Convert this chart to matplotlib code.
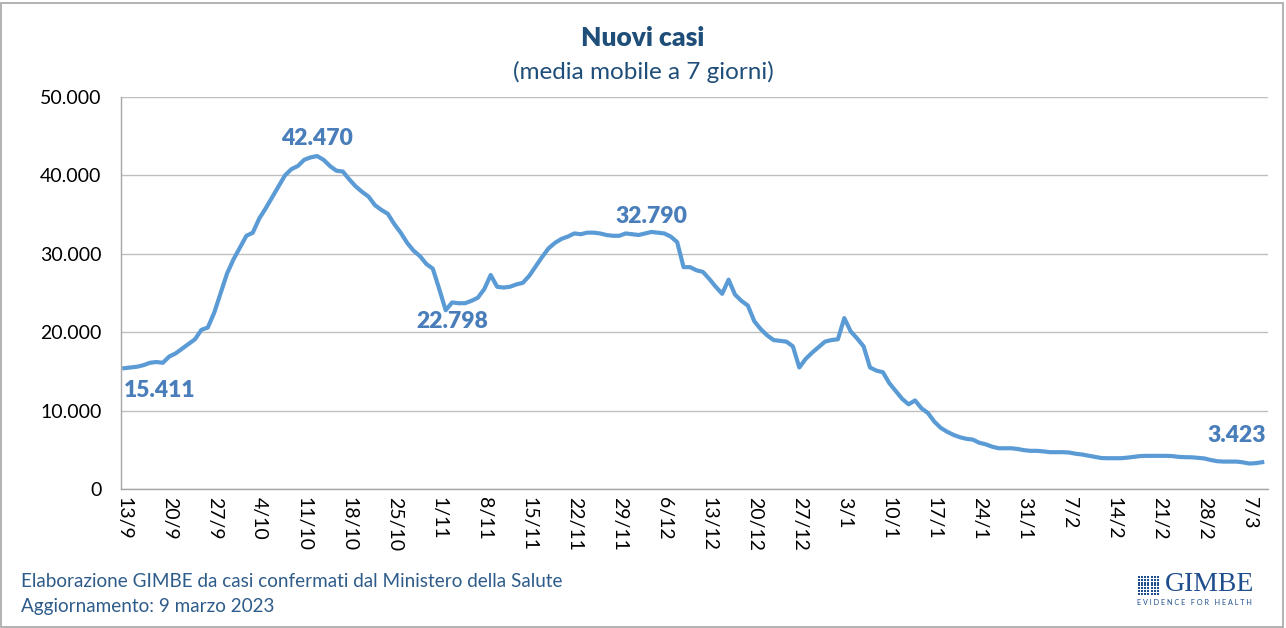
import numpy as np
import pandas as pd
import matplotlib
matplotlib.use("Agg")
import matplotlib.pyplot as plt
from matplotlib.ticker import FuncFormatter
from matplotlib.patches import Rectangle

plt.rcParams['font.family'] = ['Lato', 'DejaVu Sans']

# 7-day moving average of new cases, 13/9/2022 -> 9/3/2023 (thousands)
start_date = "2022-09-13"
casi_k = [
    15.411, 15.5, 15.6, 15.8, 16.1, 16.2, 16.1, 16.9, 17.3, 17.9,
    18.5, 19.1, 20.3, 20.6, 22.5, 25.0, 27.5, 29.3, 30.8, 32.3,
    32.7, 34.5, 35.8, 37.2, 38.6, 40.0, 40.8, 41.2, 42.0, 42.3,
    42.47, 42.0, 41.2, 40.6, 40.5, 39.5, 38.6, 37.9, 37.3, 36.2,
    35.6, 35.1, 33.8, 32.7, 31.4, 30.4, 29.7, 28.7, 28.1, 25.5,
    22.798, 23.8, 23.7, 23.7, 24.0, 24.4, 25.5, 27.3, 25.8, 25.7,
    25.8, 26.1, 26.3, 27.2, 28.4, 29.6, 30.7, 31.4, 31.9, 32.2,
    32.6, 32.5, 32.7, 32.7, 32.6, 32.4, 32.3, 32.3, 32.6, 32.5,
    32.4, 32.6, 32.79, 32.7, 32.6, 32.2, 31.5, 28.3, 28.3, 27.9,
    27.7, 26.8, 25.8, 24.9, 26.7, 24.8, 24.0, 23.4, 21.4, 20.4,
    19.6, 19.0, 18.9, 18.8, 18.2, 15.5, 16.6, 17.4, 18.1, 18.8,
    19.0, 19.1, 21.8, 20.1, 19.2, 18.2, 15.5, 15.1, 14.9, 13.5,
    12.5, 11.5, 10.8, 11.3, 10.3, 9.7, 8.6, 7.8, 7.3, 6.9,
    6.6, 6.4, 6.3, 5.9, 5.7, 5.4, 5.2, 5.2, 5.2, 5.1,
    4.95, 4.87, 4.87, 4.8, 4.7, 4.7, 4.7, 4.65, 4.5, 4.4,
    4.25, 4.1, 3.95, 3.93, 3.93, 3.93, 4.0, 4.1, 4.2, 4.23,
    4.23, 4.23, 4.23, 4.2, 4.1, 4.06, 4.05, 3.98, 3.9, 3.7,
    3.55, 3.5, 3.5, 3.5, 3.4, 3.25, 3.3, 3.423,
]
# annotated points: (day index, label text, text offset in points, ha)
annotazioni = [
    (0, "15.411", (0, -16), "left"),
    (30, "42.470", (0, 13), "center"),
    (50, "22.798", (5, -8), "center"),
    (82, "32.790", (0, 11), "center"),
    (177, "3.423", (3, 19), "right"),
]

valori = np.array(casi_k) * 1000
date = pd.date_range(start_date, periods=len(valori), freq="D")
giorni = np.arange(len(valori))

blu_linea = "#5B9BD5"
blu_etich = "#4A7EBB"
blu_scuro = "#1F4E79"

fig = plt.figure(figsize=(12.86, 6.28), dpi=100)
fig.patches.append(Rectangle((0.001, 0.002), 0.997, 0.994, transform=fig.transFigure,
                             fill=False, edgecolor="#A6A6A6", linewidth=1.2))
ax = fig.add_axes([0.0941, 0.2213, 0.8919, 0.6242])

ax.plot(giorni, valori, color=blu_linea, linewidth=3.0, solid_joinstyle="round")

for d, testo, off, ha in annotazioni:
    ax.annotate(testo, (d, valori[d]), xytext=off, textcoords="offset points",
                ha=ha, va="center", fontsize=16.5, fontweight="heavy", color=blu_etich)

ax.set_ylim(0, 50000)
ax.set_yticks(np.arange(0, 50001, 10000))
ax.yaxis.set_major_formatter(FuncFormatter(lambda v, p: f"{v:,.0f}".replace(",", ".")))
ax.set_xlim(-0.5, 177.9)
tick_pos = giorni[::7]
ax.set_xticks(tick_pos)
ax.set_xticklabels([f"{d.day}/{d.month}" for d in date[::7]], rotation=270)

ax.grid(axis="y", color="#BFBFBF", linewidth=1.0)
ax.set_axisbelow(True)
for s in ["top", "right"]:
    ax.spines[s].set_visible(False)
for s in ["left", "bottom"]:
    ax.spines[s].set_color("#A6A6A6")
    ax.spines[s].set_linewidth(1.0)
ax.tick_params(axis="y", length=0, pad=14, labelsize=14, labelcolor="#000000")
ax.tick_params(axis="x", length=0, pad=6, labelsize=14, labelcolor="#000000")

fig.text(0.5, 0.94, "Nuovi casi", ha="center", va="center", fontsize=19,
         fontweight="heavy", color=blu_scuro)
fig.text(0.5, 0.885, "(media mobile a 7 giorni)", ha="center", va="center",
         fontsize=17.5, color=blu_scuro)

fig.text(0.016, 0.074, "Elaborazione GIMBE da casi confermati dal Ministero della Salute",
         ha="left", va="center", fontsize=13.6, color="#2E5C8A")
fig.text(0.016, 0.034, "Aggiornamento: 9 marzo 2023", ha="left", va="center",
         fontsize=13.6, color="#2E5C8A")

# logo
logo = fig.add_axes([0.884, 0.052, 0.018, 0.032])
gx, gy = np.meshgrid(np.arange(7), np.arange(7))
logo.scatter(gx.ravel(), gy.ravel(), marker="s", s=3.5, color="#1F4E8C", linewidths=0)
logo.set_xlim(-0.6, 6.6)
logo.set_ylim(-0.6, 6.6)
logo.axis("off")
fig.text(0.906, 0.07, "GIMBE", ha="left", va="center", fontsize=20,
         family=["Liberation Serif", "DejaVu Serif"], color="#1F4E8C")
fig.text(0.8845, 0.04, "E V I D E N C E   F O R   H E A L T H", ha="left", va="center",
         fontsize=5.2, color="#1F4E8C")

fig.savefig("out.png", dpi=100)
